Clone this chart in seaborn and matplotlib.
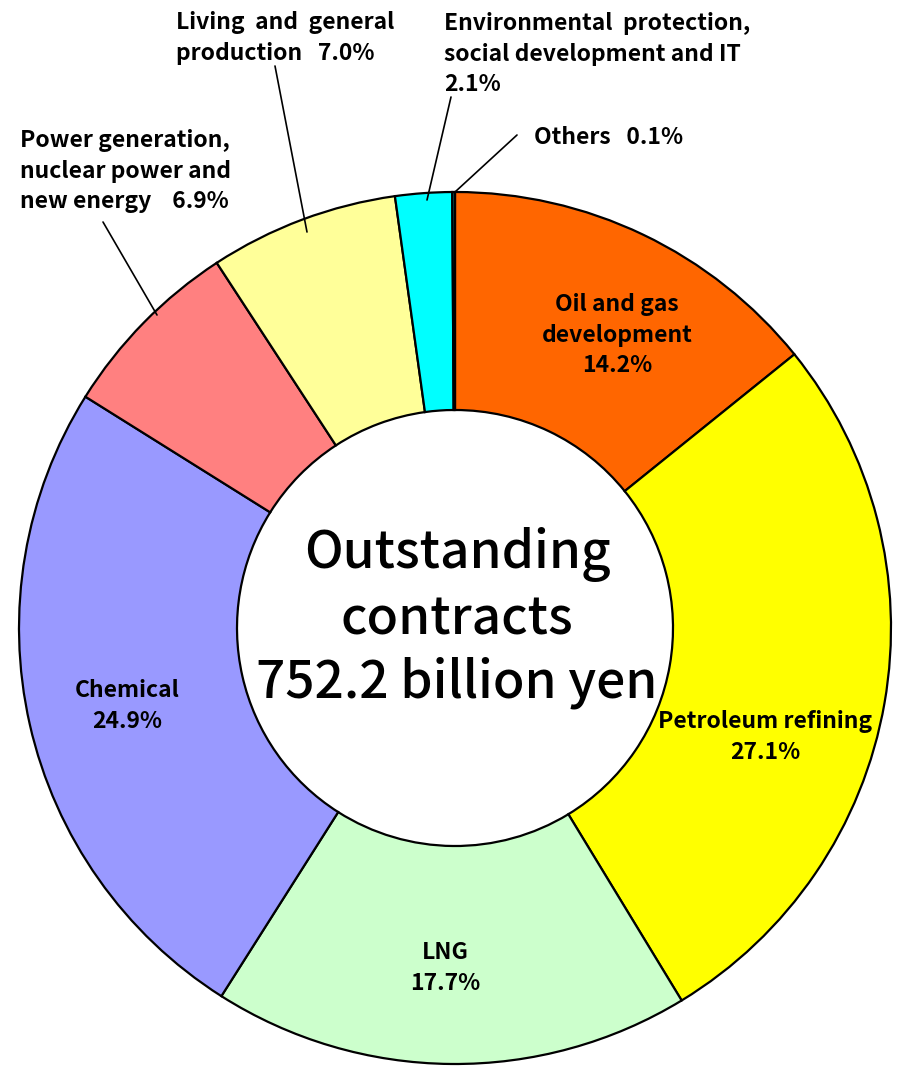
import matplotlib
matplotlib.use("Agg")
import matplotlib.pyplot as plt
import seaborn as sns

sns.set_theme(style="white")
plt.rcParams['font.family'] = ['Noto Sans CJK JP', 'DejaVu Sans']
plt.rcParams['text.color'] = 'black'

categories = ["Oil and gas\ndevelopment", "Petroleum refining", "LNG", "Chemical",
              "Power generation,\nnuclear power and\nnew energy", "Living and general\nproduction",
              "Environmental protection,\nsocial development and IT", "Others"]
values = [14.2, 27.1, 17.7, 24.9, 6.9, 7.0, 2.1, 0.1]
colors = ["#FF6600", "#FFFF00", "#CCFFCC", "#9999FF", "#FF8080", "#FFFF99", "#00FFFF", "#008080"]

W, H = 903, 1066
fig = plt.figure(figsize=(W / 100, H / 100), dpi=100)
ax = fig.add_axes([0, 0, 1, 1])
ax.set_xlim(0, W)
ax.set_ylim(0, H)
ax.set_aspect('equal')
ax.axis('off')

cx, cy = 455, H - 628
R = 436
ax.pie(values, colors=colors, startangle=90, counterclock=False, center=(cx, cy), radius=R,
       wedgeprops=dict(width=R * 0.5, edgecolor='black', linewidth=1.6), frame=True)
ax.set_xlim(0, W)
ax.set_ylim(0, H)
ax.axis('off')

def P(x, y):
    return x, H - y

fs = 16.5
fw = 'bold'
ls = 1.42
kw = dict(fontsize=fs, fontweight=fw, color='black')
# inside labels
ax.text(*P(617, 335), "Oil and gas\ndevelopment\n14.2%", ha='center', va='center', linespacing=ls, **kw)
ax.text(*P(765, 737), "Petroleum refining\n27.1%", ha='center', va='center', linespacing=ls, **kw)
ax.text(*P(445, 968), "LNG\n17.7%", ha='center', va='center', linespacing=ls, **kw)
ax.text(*P(127, 706), "Chemical\n24.9%", ha='center', va='center', linespacing=ls, **kw)

# outside labels
ax.text(*P(20, 171), "Power generation,\nnuclear power and\nnew energy    6.9%", ha='left', va='center', linespacing=ls, **kw)
ax.plot(*zip(P(103, 222), P(157, 315)), color='black', lw=1.2)
ax.text(*P(176, 38), "Living  and  general\nproduction   7.0%", ha='left', va='center', linespacing=ls, **kw)
ax.plot(*zip(P(275, 66), P(307, 232)), color='black', lw=1.2)
ax.text(*P(444, 54), "Environmental  protection,\nsocial development and IT\n2.1%", ha='left', va='center', linespacing=ls, **kw)
ax.plot(*zip(P(451, 97), P(427, 200)), color='black', lw=1.2)
ax.text(*P(534, 137), "Others   0.1%", ha='left', va='center', **kw)
ax.plot(*zip(P(517, 135), P(455, 192)), color='black', lw=1.2)

ax.text(cx + 2, cy + 10, "Outstanding\ncontracts\n752.2 billion yen", ha='center', va='center',
        fontsize=37, fontweight='medium', color='black', linespacing=1.28)

fig.savefig("out.png", dpi=100)
